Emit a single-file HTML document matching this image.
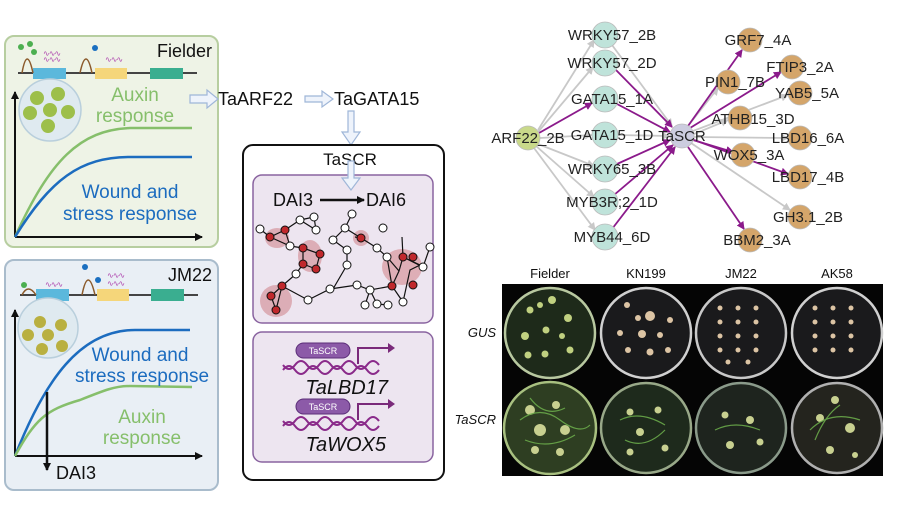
<!DOCTYPE html>
<html><head><meta charset="utf-8"><style>
html,body{margin:0;padding:0;background:#fff;}
svg{display:block;font-family:"Liberation Sans",Arial,sans-serif;}
</style></head><body>
<svg width="900" height="505" viewBox="0 0 900 505" xmlns="http://www.w3.org/2000/svg">
<defs>
<marker id="ab" markerWidth="8" markerHeight="8" refX="7" refY="4" orient="auto" markerUnits="userSpaceOnUse"><path d="M0,0 L8,4 L0,8 z" fill="#111"/></marker>
<marker id="ag" markerWidth="8" markerHeight="8" refX="7" refY="4" orient="auto" markerUnits="userSpaceOnUse"><path d="M0,0 L8,4 L0,8 z" fill="#c8c8c8"/></marker>
<marker id="ap" markerWidth="8" markerHeight="8" refX="7" refY="4" orient="auto" markerUnits="userSpaceOnUse"><path d="M0,0 L8,4 L0,8 z" fill="#8b1a8b"/></marker>
</defs>

<!-- Fielder panel -->
<rect x="5" y="36" width="213" height="211" rx="9" fill="#eef3e6" stroke="#b7cea0" stroke-width="2"/>
<text x="212" y="57" font-size="18" text-anchor="end" fill="#111">Fielder</text>
<line x1="18" y1="73" x2="197" y2="73" stroke="#444" stroke-width="2"/>
<rect x="33" y="68" width="33" height="11" fill="#5bb8dc"/>
<rect x="95" y="68" width="32" height="11" fill="#f5d67a"/>
<rect x="150" y="68" width="33" height="11" fill="#3aae90"/>
<path d="M22,73 Q27,45 33,73" fill="none" stroke="#8b5a2b" stroke-width="1.5"/>
<path d="M80,73 Q86,45 92,73" fill="none" stroke="#8b5a2b" stroke-width="1.5"/>
<circle cx="21" cy="47" r="3" fill="#4caf50"/><circle cx="30" cy="44" r="3" fill="#4caf50"/><circle cx="34" cy="52" r="3" fill="#4caf50"/>
<circle cx="95" cy="48" r="3" fill="#1a6fc0"/>
<text x="43" y="62" font-size="8" fill="#b04ab0" letter-spacing="-1">∿∿∿</text>
<text x="43" y="56" font-size="8" fill="#b04ab0" letter-spacing="-1">∿∿∿</text>
<text x="105" y="62" font-size="8" fill="#b04ab0" letter-spacing="-1">∿∿∿</text>
<line x1="15" y1="237" x2="15" y2="92" stroke="#111" stroke-width="2" marker-end="url(#ab)"/>
<line x1="15" y1="237" x2="202" y2="237" stroke="#111" stroke-width="2" marker-end="url(#ab)"/>
<circle cx="50" cy="110" r="31" fill="#dfeaf0" stroke="#b9cfdc" stroke-width="1.5"/>
<g fill="#9dbf4a"><circle cx="37" cy="98" r="7"/><circle cx="58" cy="94" r="7"/><circle cx="30" cy="113" r="7"/><circle cx="50" cy="110" r="7"/><circle cx="68" cy="112" r="7"/><circle cx="48" cy="126" r="7"/></g>
<text x="135" y="101" font-size="19" text-anchor="middle" fill="#86bf6b">Auxin</text>
<text x="135" y="122" font-size="19" text-anchor="middle" fill="#86bf6b">response</text>
<path d="M15,237 C50,160 80,130 130,128 L192,128" fill="none" stroke="#86bf6b" stroke-width="2.5"/>
<path d="M15,237 C50,180 80,157 130,157 L192,157" fill="none" stroke="#1c6cbf" stroke-width="2.5"/>
<text x="130" y="198" font-size="19" text-anchor="middle" fill="#1c6cbf">Wound and</text>
<text x="130" y="220" font-size="19" text-anchor="middle" fill="#1c6cbf">stress response</text>

<!-- JM22 panel -->
<rect x="5" y="260" width="213" height="230" rx="9" fill="#e9eff5" stroke="#a9bccc" stroke-width="2"/>
<text x="212" y="281" font-size="18" text-anchor="end" fill="#111">JM22</text>
<line x1="20" y1="295" x2="198" y2="295" stroke="#444" stroke-width="2"/>
<rect x="36" y="289" width="33" height="12" fill="#5bb8dc"/>
<rect x="97" y="289" width="32" height="12" fill="#f5d67a"/>
<rect x="151" y="289" width="33" height="12" fill="#3aae90"/>
<path d="M22,295 Q28,283 36,295" fill="none" stroke="#8b5a2b" stroke-width="1.5"/>
<path d="M82,295 Q88,265 95,295" fill="none" stroke="#8b5a2b" stroke-width="1.5"/>
<circle cx="24" cy="285" r="3" fill="#4caf50"/>
<circle cx="85" cy="267" r="3" fill="#1a6fc0"/><circle cx="98" cy="280" r="3" fill="#1a6fc0"/>
<text x="45" y="287" font-size="8" fill="#b04ab0" letter-spacing="-1">∿∿∿</text>
<text x="107" y="286" font-size="8" fill="#b04ab0" letter-spacing="-1">∿∿∿</text>
<text x="107" y="278" font-size="8" fill="#b04ab0" letter-spacing="-1">∿∿∿</text>
<line x1="15" y1="456" x2="15" y2="310" stroke="#111" stroke-width="2" marker-end="url(#ab)"/>
<line x1="15" y1="456" x2="202" y2="456" stroke="#111" stroke-width="2" marker-end="url(#ab)"/>
<circle cx="48" cy="328" r="30" fill="#dfeaf0" stroke="#b9cfdc" stroke-width="1.5"/>
<g fill="#b9b040"><circle cx="40" cy="322" r="6"/><circle cx="61" cy="325" r="6"/><circle cx="28" cy="335" r="6"/><circle cx="48" cy="335" r="6"/><circle cx="42" cy="349" r="6"/><circle cx="62" cy="346" r="6"/></g>
<path d="M15,456 C45,380 80,330 135,330 L190,330" fill="none" stroke="#1c6cbf" stroke-width="2.5"/>
<path d="M15,456 C35,420 45,410 80,400 C105,390 115,386 130,386 L192,387" fill="none" stroke="#86bf6b" stroke-width="2.5"/>
<text x="140" y="361" font-size="19" text-anchor="middle" fill="#1c6cbf">Wound and</text>
<text x="142" y="382" font-size="19" text-anchor="middle" fill="#1c6cbf">stress response</text>
<text x="142" y="423" font-size="19" text-anchor="middle" fill="#86bf6b">Auxin</text>
<text x="142" y="444" font-size="19" text-anchor="middle" fill="#86bf6b">response</text>
<line x1="47" y1="392" x2="47" y2="470" stroke="#111" stroke-width="2.5" marker-end="url(#ab)"/>
<text x="56" y="479" font-size="18" fill="#111">DAI3</text>

<!-- middle arrows & labels -->
<g fill="#eef3fb" stroke="#9fb6d8" stroke-width="1.2">
<path d="M190,95 L207,95 L207,90 L218,99 L207,108 L207,103 L190,103 z"/>
<path d="M305,96 L322,96 L322,91 L333,99 L322,107 L322,102 L305,102 z"/>
<path d="M348,111 L354,111 L354,132 L360,132 L351,145 L342,132 L348,132 z"/>
</g>
<text x="218" y="105" font-size="18" fill="#111">TaARF22</text>
<text x="334" y="105" font-size="18" fill="#111">TaGATA15</text>

<rect x="243" y="145" width="201" height="335" rx="10" fill="#fff" stroke="#111" stroke-width="2"/>
<text x="350" y="165" font-size="17" text-anchor="middle" fill="#111">TaSCR</text>
<rect x="253" y="175" width="180" height="148" rx="9" fill="#ede5f0" stroke="#8a64a0" stroke-width="1.5"/>
<path d="M348,161 L354,161 L354,178 L360,178 L351,190 L342,178 L348,178 z" fill="#eef3fb" stroke="#9fb6d8" stroke-width="1.2"/>
<text x="273" y="206" font-size="18" fill="#111">DAI3</text>
<line x1="320" y1="200" x2="364" y2="200" stroke="#111" stroke-width="2.5" marker-end="url(#ab)"/>
<text x="366" y="206" font-size="18" fill="#111">DAI6</text>
<!-- network -->
<g fill="#d9a0a8" opacity="0.8">
<ellipse cx="277" cy="238" rx="12" ry="10"/><ellipse cx="310" cy="256" rx="12" ry="16"/><ellipse cx="276" cy="301" rx="16" ry="16"/><ellipse cx="361" cy="238" rx="8" ry="8"/><ellipse cx="402" cy="267" rx="20" ry="18"/>
</g>
<g stroke="#111" stroke-width="1.2" fill="none">
<path d="M260,229 L270,237 L285,230 L300,220 L314,217 L316,230 L300,220 M285,230 L290,246 L270,237 M290,246 L303,248 L320,254 L316,269 L303,264 L303,248 M303,264 L296,274 L282,286 L271,296 L276,310 L282,286 M282,286 L308,300 L330,289 L357,285 L370,290 L392,286 L399,271 L403,257 L402,237 M355,237 L361,238 L377,248 L387,257 L392,286 L403,302 M361,238 L345,228 L352,214 M345,228 L333,240 L347,250 L347,265 L333,289 M403,257 L423,267 L430,247 M403,257 L420,265 L410,270 L403,302 M370,290 L377,304 L388,305 M370,290 L365,305 M387,257 L399,271"/>
</g>
<g stroke="#111" stroke-width="1" fill="#fff">
<circle cx="260" cy="229" r="4"/><circle cx="300" cy="220" r="4"/><circle cx="314" cy="217" r="4"/><circle cx="316" cy="230" r="4"/><circle cx="290" cy="246" r="4"/><circle cx="296" cy="274" r="4"/><circle cx="308" cy="300" r="4"/><circle cx="330" cy="289" r="4"/><circle cx="357" cy="285" r="4"/><circle cx="352" cy="214" r="4"/><circle cx="345" cy="228" r="4"/><circle cx="333" cy="240" r="4"/><circle cx="347" cy="250" r="4"/><circle cx="347" cy="265" r="4"/><circle cx="377" cy="248" r="4"/><circle cx="387" cy="257" r="4"/><circle cx="403" cy="302" r="4"/><circle cx="423" cy="267" r="4"/><circle cx="430" cy="247" r="4"/><circle cx="383" cy="228" r="4"/><circle cx="377" cy="304" r="4"/><circle cx="388" cy="305" r="4"/><circle cx="365" cy="305" r="4"/><circle cx="370" cy="290" r="4"/>
</g>
<g stroke="#111" stroke-width="1" fill="#c0282c">
<circle cx="270" cy="237" r="4"/><circle cx="285" cy="230" r="4"/><circle cx="303" cy="248" r="4"/><circle cx="320" cy="254" r="4"/><circle cx="316" cy="269" r="4"/><circle cx="303" cy="264" r="4"/><circle cx="282" cy="286" r="4"/><circle cx="271" cy="296" r="4"/><circle cx="276" cy="310" r="4"/><circle cx="361" cy="238" r="4"/><circle cx="392" cy="286" r="4"/><circle cx="413" cy="285" r="4"/><circle cx="413" cy="257" r="4"/><circle cx="403" cy="257" r="4"/>
</g>

<rect x="253" y="332" width="180" height="130" rx="9" fill="#ede5f0" stroke="#8a64a0" stroke-width="1.5"/>
<g stroke="#8a2a8a" stroke-width="2" fill="none">
<path d="M283,370 q6,-8 12,0 t12,0 t12,0 t12,0 t12,0 t12,0 t12,0 t12,0"/>
<path d="M283,365 q6,8 12,0 t12,0 t12,0 t12,0 t12,0 t12,0 t12,0 t12,0"/>
<path d="M283,426 q6,-8 12,0 t12,0 t12,0 t12,0 t12,0 t12,0 t12,0 t12,0"/>
<path d="M283,421 q6,8 12,0 t12,0 t12,0 t12,0 t12,0 t12,0 t12,0 t12,0"/>
<path d="M358,364 L358,348 L390,348" stroke="#7a2a7a"/>
<path d="M358,420 L358,404 L390,404" stroke="#7a2a7a"/>
</g>
<path d="M388,343 L395,348 L388,353 z" fill="#7a2a7a"/><path d="M388,399 L395,404 L388,409 z" fill="#7a2a7a"/>
<rect x="296" y="343" width="54" height="15" rx="7.5" fill="#8c5aa8" stroke="#5b2d78"/>
<text x="323" y="354" font-size="9" fill="#fff" text-anchor="middle">TaSCR</text>
<rect x="296" y="399" width="54" height="15" rx="7.5" fill="#8c5aa8" stroke="#5b2d78"/>
<text x="323" y="410" font-size="9" fill="#fff" text-anchor="middle">TaSCR</text>
<text x="388" y="394" font-size="20" font-style="italic" text-anchor="end" fill="#111">TaLBD17</text>
<text x="386" y="451" font-size="20" font-style="italic" text-anchor="end" fill="#111">TaWOX5</text>

<!-- gene network -->
<g stroke-width="1.8" fill="none">
<g stroke="#c8c8c8" marker-end="url(#ag)">
<line x1="538" y1="130" x2="594" y2="40"/><line x1="538" y1="132" x2="593" y2="67"/><line x1="540" y1="138" x2="592" y2="135"/><line x1="538" y1="144" x2="594" y2="166"/><line x1="536" y1="146" x2="594" y2="197"/><line x1="534" y1="148" x2="595" y2="230"/>
<line x1="612" y1="45" x2="672" y2="126"/>
<line x1="618" y1="135" x2="669" y2="136"/>
<line x1="688" y1="126" x2="718" y2="88"/><line x1="693" y1="131" x2="788" y2="95"/><line x1="694" y1="134" x2="728" y2="120"/><line x1="694" y1="137" x2="788" y2="138"/><line x1="691" y1="143" x2="790" y2="210"/>
</g>
<g stroke="#8b1a8b" marker-end="url(#ap)">
<line x1="539" y1="133" x2="592" y2="103"/>
<line x1="616" y1="70" x2="672" y2="127"/><line x1="617" y1="104" x2="670" y2="132"/><line x1="617" y1="164" x2="670" y2="140"/><line x1="614" y1="195" x2="673" y2="145"/><line x1="612" y1="229" x2="675" y2="147"/>
<line x1="688" y1="126" x2="742" y2="50"/><line x1="690" y1="128" x2="781" y2="72"/><line x1="693" y1="140" x2="733" y2="152"/><line x1="694" y1="140" x2="788" y2="174"/><line x1="688" y1="147" x2="744" y2="229"/>
</g>
</g>
<g stroke="#bbb" stroke-width="0.8">
<circle cx="528" cy="138" r="12" fill="#c9d98a"/>
<g fill="#bfe3da"><circle cx="605" cy="35" r="13"/><circle cx="605" cy="63" r="13"/><circle cx="605" cy="99" r="13"/><circle cx="605" cy="135" r="13"/><circle cx="605" cy="169" r="13"/><circle cx="605" cy="202" r="13"/><circle cx="605" cy="237" r="13"/></g>
<circle cx="682" cy="136" r="12" fill="#ccccdf"/>
<g fill="#d4a56a"><circle cx="750" cy="40" r="12"/><circle cx="792" cy="67" r="12"/><circle cx="728" cy="82" r="12"/><circle cx="800" cy="93" r="12"/><circle cx="740" cy="118" r="12"/><circle cx="800" cy="138" r="12"/><circle cx="743" cy="155" r="12"/><circle cx="800" cy="177" r="12"/><circle cx="800" cy="217" r="12"/><circle cx="750" cy="240" r="12"/></g>
</g>
<g font-size="15" fill="#222" text-anchor="middle">
<text x="528" y="143">ARF22_2B</text>
<text x="612" y="40">WRKY57_2B</text><text x="612" y="68">WRKY57_2D</text><text x="612" y="104">GATA15_1A</text><text x="612" y="140">GATA15_1D</text><text x="612" y="174">WRKY65_3B</text><text x="612" y="207">MYB3R;2_1D</text><text x="612" y="242">MYB44_6D</text>
<text x="682" y="141">TaSCR</text>
<text x="758" y="45">GRF7_4A</text><text x="800" y="72">FTIP3_2A</text><text x="735" y="87">PIN1_7B</text><text x="807" y="98">YAB5_5A</text><text x="753" y="124">ATHB15_3D</text><text x="808" y="143">LBD16_6A</text><text x="749" y="160">WOX5_3A</text><text x="808" y="182">LBD17_4B</text><text x="808" y="222">GH3.1_2B</text><text x="757" y="245">BBM2_3A</text>
</g>

<!-- photo -->
<g font-size="13" fill="#111" text-anchor="middle">
<text x="550" y="278">Fielder</text><text x="646" y="278">KN199</text><text x="741" y="278">JM22</text><text x="837" y="278">AK58</text>
</g>
<text x="496" y="337" font-size="13" font-style="italic" text-anchor="end" fill="#111">GUS</text>
<text x="496" y="424" font-size="13" font-style="italic" text-anchor="end" fill="#111">TaSCR</text>
<rect x="502" y="284" width="381" height="192" fill="#050505"/>
<g stroke-width="2.5">
<circle cx="550" cy="333" r="45" fill="#1e2a1a" stroke="#b8c8a0"/>
<circle cx="646" cy="333" r="45" fill="#1a1a1c" stroke="#d0d0d0"/>
<circle cx="741" cy="333" r="45" fill="#1a1a1c" stroke="#c8c8c8"/>
<circle cx="837" cy="333" r="45" fill="#1a1a1c" stroke="#d0d0d0"/>
<circle cx="550" cy="428" r="46" fill="#2e3e22" stroke="#a8c080"/>
<circle cx="646" cy="428" r="45" fill="#1e2a1c" stroke="#98a888"/>
<circle cx="741" cy="428" r="45" fill="#1e241e" stroke="#8a9a8a"/>
<circle cx="837" cy="428" r="45" fill="#24241e" stroke="#b0b0b0"/>
</g>
<g fill="#c0d080">
<circle cx="530" cy="310" r="3.5"/><circle cx="552" cy="300" r="4"/><circle cx="568" cy="318" r="4"/><circle cx="525" cy="336" r="4"/><circle cx="546" cy="330" r="3.5"/><circle cx="528" cy="355" r="3.5"/><circle cx="545" cy="354" r="3.5"/><circle cx="570" cy="350" r="3.5"/><circle cx="540" cy="305" r="3"/><circle cx="562" cy="336" r="3"/>
</g>
<g fill="#dcc4a4">
<circle cx="627" cy="305" r="3"/><circle cx="650" cy="316" r="5"/><circle cx="620" cy="333" r="3"/><circle cx="642" cy="334" r="4"/><circle cx="660" cy="335" r="3"/><circle cx="628" cy="350" r="3"/><circle cx="650" cy="352" r="3.5"/><circle cx="668" cy="350" r="3"/><circle cx="670" cy="320" r="3"/><circle cx="638" cy="318" r="3"/>
<circle cx="720" cy="308" r="2.5"/><circle cx="738" cy="308" r="2.5"/><circle cx="756" cy="308" r="2.5"/><circle cx="720" cy="322" r="2.5"/><circle cx="738" cy="322" r="2.5"/><circle cx="756" cy="322" r="2.5"/><circle cx="720" cy="336" r="2.5"/><circle cx="738" cy="336" r="2.5"/><circle cx="756" cy="336" r="2.5"/><circle cx="720" cy="350" r="2.5"/><circle cx="738" cy="350" r="2.5"/><circle cx="756" cy="350" r="2.5"/><circle cx="728" cy="362" r="2.5"/><circle cx="748" cy="362" r="2.5"/>
<circle cx="815" cy="308" r="2.5"/><circle cx="833" cy="308" r="2.5"/><circle cx="851" cy="308" r="2.5"/><circle cx="815" cy="322" r="2.5"/><circle cx="833" cy="322" r="2.5"/><circle cx="851" cy="322" r="2.5"/><circle cx="815" cy="336" r="2.5"/><circle cx="833" cy="336" r="2.5"/><circle cx="851" cy="336" r="2.5"/><circle cx="815" cy="350" r="2.5"/><circle cx="833" cy="350" r="2.5"/><circle cx="851" cy="350" r="2.5"/>
</g>
<g fill="#c8d090">
<circle cx="530" cy="410" r="5"/><circle cx="556" cy="405" r="4"/><circle cx="540" cy="430" r="6"/><circle cx="565" cy="430" r="5"/><circle cx="535" cy="450" r="4"/><circle cx="560" cy="452" r="4"/>
<circle cx="630" cy="412" r="3.5"/><circle cx="658" cy="410" r="3.5"/><circle cx="640" cy="432" r="4"/><circle cx="630" cy="452" r="3.5"/><circle cx="665" cy="448" r="3.5"/>
<circle cx="725" cy="415" r="3.5"/><circle cx="750" cy="420" r="4"/><circle cx="730" cy="445" r="4"/><circle cx="760" cy="442" r="3.5"/>
<circle cx="835" cy="400" r="4"/><circle cx="820" cy="418" r="4"/><circle cx="850" cy="428" r="5"/><circle cx="830" cy="450" r="4"/><circle cx="855" cy="455" r="3"/>
</g>
<g stroke="#6aaa4a" stroke-width="1.2" fill="none" opacity="0.9">
<path d="M520,420 q20,-15 40,0 t30,5"/><path d="M525,440 q25,10 50,-5"/><path d="M530,398 q15,20 35,10"/><path d="M620,420 q20,-10 45,5"/><path d="M625,440 q20,10 40,-10"/><path d="M715,430 q20,-10 45,0"/><path d="M810,430 q20,-20 50,-10"/><path d="M815,440 q10,-25 25,-35"/>
</g>
</svg>
</body></html>
